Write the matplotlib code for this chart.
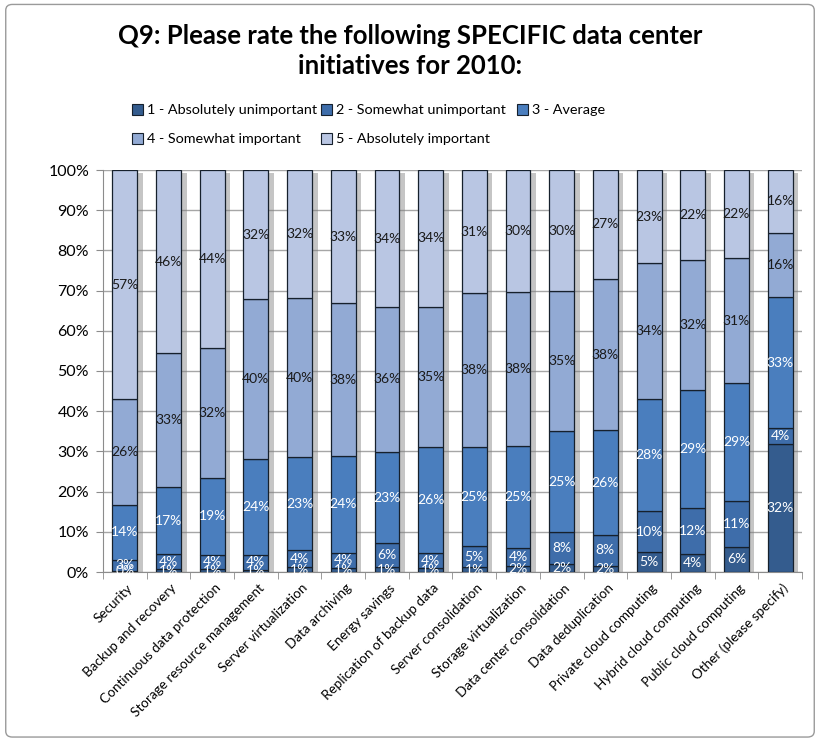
import matplotlib
matplotlib.use('Agg')
import matplotlib.pyplot as plt
import numpy as np
from matplotlib.patches import Patch, FancyBboxPatch
import matplotlib.patheffects as pe
from matplotlib.transforms import ScaledTranslation

categories = ["Security", "Backup and recovery", "Continuous data protection",
              "Storage resource management", "Server virtualization", "Data archiving",
              "Energy savings", "Replication of backup data", "Server consolidation",
              "Storage virtualization", "Data center consolidation", "Data deduplication",
              "Private cloud computing", "Hybrid cloud computing", "Public cloud computing",
              "Other (please specify)"]
series_names = ["1 - Absolutely unimportant", "2 - Somewhat unimportant", "3 - Average",
                "4 - Somewhat important", "5 - Absolutely important"]

s1 = [0.3, 0.7, 0.7, 0.6, 1.2, 1.0, 1.2, 0.9, 1.2, 1.6, 2.0, 1.6, 5.0, 4.4, 6.3, 31.9]
s2 = [2.8, 3.8, 3.6, 3.6, 4.3, 3.8, 5.9, 3.9, 5.2, 4.4, 7.9, 7.6, 10.1, 11.6, 11.4, 3.8]
s3 = [13.6, 16.6, 19.2, 23.8, 23.0, 24.0, 22.8, 26.2, 24.6, 25.3, 25.1, 26.1, 28.0, 29.3, 29.3, 32.7]
s4 = [26.3, 33.3, 32.2, 39.8, 39.6, 38.1, 36.0, 35.0, 38.3, 38.3, 34.8, 37.6, 33.7, 32.3, 31.0, 16.0]
s5 = [57.0, 45.6, 44.3, 32.2, 31.9, 33.1, 34.1, 34.0, 30.7, 30.4, 30.2, 27.1, 23.2, 22.4, 22.0, 15.6]

ytick_labels = ["0%", "10%", "20%", "30%", "40%", "50%", "60%", "70%", "80%", "90%", "100%"]

FONT = ["Lato", "DejaVu Sans"]
plt.rcParams["font.family"] = FONT
colors = ["#345C8E", "#3E6DAA", "#4A7EBE", "#92AAD4", "#B9C6E3"]
label_colors = ["white", "white", "white", "#1a1a1a", "#1a1a1a"]

fig = plt.figure(figsize=(8.2, 7.4), dpi=100)
fig.patch.set_facecolor("white")

border = FancyBboxPatch((0.007, 0.004), 0.986, 0.99, boxstyle="round,pad=0,rounding_size=0.008",
                        transform=fig.transFigure, fill=False, edgecolor="#9a9a9a", linewidth=1.0)
fig.patches.append(border)

ax = fig.add_axes([103 / 820, 1 - 572 / 740, 699 / 820, 402 / 740])

x = np.arange(len(categories))
series = [s1, s2, s3, s4, s5]
totals = np.sum(np.array(series), axis=0)
width = 0.57

# drop shadow behind each stacked column
ax.bar(x, totals, width=width, color="none", edgecolor="none", zorder=2,
       path_effects=[pe.SimplePatchShadow(offset=(4, -2), shadow_rgbFace="#7f7f7f", alpha=0.45)])

bottom = np.zeros(len(categories))
handles = []
for i, vals in enumerate(series):
    vals = np.array(vals)
    ax.bar(x, vals, width=width, bottom=bottom, color=colors[i],
           edgecolor="#16202c", linewidth=0.9, zorder=3)
    handles.append(Patch(facecolor=colors[i], edgecolor="#16202c", linewidth=0.8))
    for xi, b, v in zip(x, bottom, vals):
        if v <= 0:
            continue
        ax.text(xi, b + v / 2, f"{v:.0f}%", ha="center", va="center",
                fontsize=10, color=label_colors[i], zorder=5)
    bottom = bottom + vals

ax.set_xlim(-0.5, len(categories) - 0.5)
ax.set_ylim(0, 100)
ax.set_yticks(np.arange(0, 101, 10))
ax.set_yticklabels(ytick_labels, fontsize=11.5)
ax.yaxis.grid(True, color="#a6a6a6", linewidth=1.0, zorder=0)
ax.set_axisbelow(True)
for sp in ["top", "right"]:
    ax.spines[sp].set_visible(False)
ax.spines["left"].set_color("#8c8c8c")
ax.spines["bottom"].set_color("#8c8c8c")
ax.tick_params(axis="y", length=5, color="#8c8c8c", pad=5)

ax.set_xticks(x)
ax.set_xticks(np.arange(-0.5, len(categories), 1.0), minor=True)
ax.tick_params(axis="x", which="major", length=0, pad=2)
ax.tick_params(axis="x", which="minor", length=5, color="#8c8c8c")
ax.set_xticklabels(categories, rotation=45, ha="right", va="top",
                   rotation_mode="anchor", fontsize=9.7)
off = ScaledTranslation(2 / 100, -7 / 100, fig.dpi_scale_trans)
for lab in ax.get_xticklabels():
    lab.set_transform(lab.get_transform() + off)

fig.text(0.5, 1 - 51 / 740, "Q9: Please rate the following SPECIFIC data center\ninitiatives for 2010:",
         ha="center", va="center", fontsize=18.5, fontweight="bold", linespacing=1.3)

# legend: three columns placed where the reference puts them (row-major order)
legend_columns = [[0, 3], [1, 4], [2]]
legend_x = [132, 321, 517]
for cols, lx in zip(legend_columns, legend_x):
    fig.legend([handles[k] for k in cols], [series_names[k] for k in cols],
               loc="upper left", bbox_to_anchor=(lx / 820, 1 - 104 / 740), ncol=1,
               frameon=False, fontsize=10.4, handlelength=0.75, handleheight=0.75,
               handletextpad=0.3, labelspacing=1.15, borderpad=0, borderaxespad=0)

fig.savefig("out.png", dpi=100, facecolor="white")
